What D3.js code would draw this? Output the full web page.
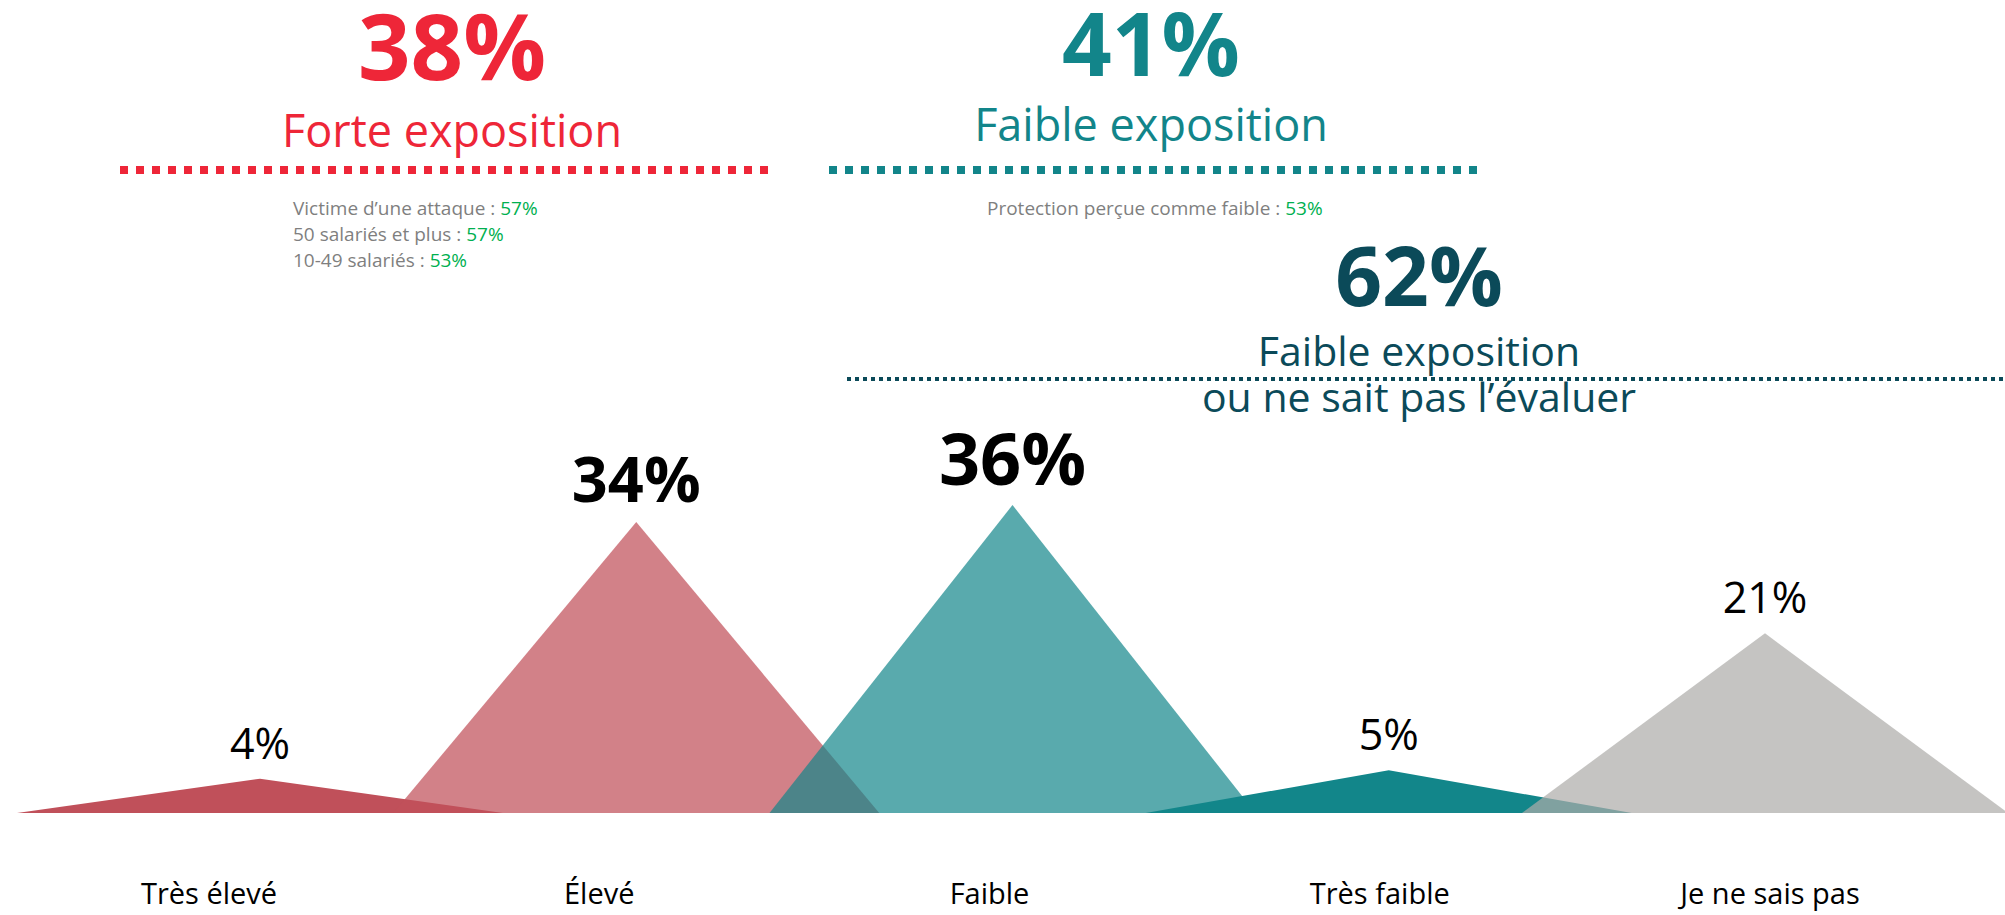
<!DOCTYPE html>
<html lang="fr">
<head>
<meta charset="utf-8">
<script src="https://cdn.jsdelivr.net/npm/d3@7"></script>
<style>
  body { margin: 0; background: #fff; }
  svg { display: block; font-family: 'Open Sans', 'Noto Sans', sans-serif; }
</style>
</head>
<body>
<div id="chart"></div>
<script>
  'use strict';

  // answer categories and their share
  var categories = ['Très élevé', 'Élevé', 'Faible', 'Très faible', 'Je ne sais pas'];
  var values = [4, 34, 36, 5, 21];
  var fills = ['rgb(192,80,90)', 'rgba(192,80,90,0.72)', 'rgba(18,134,138,0.7)', 'rgb(18,134,138)', 'rgba(173,172,169,0.71)'];

  // headline groups
  var groupValues = ['38%', '41%', '62%'];
  var groupTitles = [['Forte exposition'], ['Faible exposition'], ['Faible exposition', 'ou ne sait pas l’évaluer']];
  var groupColors = ['#ee2638', '#12858a', '#0b4a59'];

  // details under the headlines
  var detailLabels = [['Victime d’une attaque', '50 salariés et plus', '10-49 salariés'], ['Protection perçue comme faible']];
  var detailValues = [['57%', '57%', '53%'], ['53%']];

  var width = 2005, height = 915;
  var baseline = 813, halfBase = 243;

  var svg = d3.select('#chart').append('svg')
    .attr('width', width)
    .attr('height', height);

  var xPeak = d3.scalePoint().domain(categories).range([260, 1765]);
  var xLabel = d3.scalePoint().domain(categories).range([209, 1770]);
  var y = d3.scaleLinear().domain([0, 36]).range([baseline, 505]);

  var rows = categories.map(function (c, i) { return { cat: c, v: values[i], fill: fills[i] }; });
  var maxV = d3.max(values);

  // triangles
  svg.append('g').selectAll('path')
    .data(rows)
    .enter()
    .append('path')
    .attr('d', function (d) {
      var cx = xPeak(d.cat);
      return d3.line()([[cx - halfBase, y(0)], [cx, y(d.v)], [cx + halfBase, y(0)]]) + 'Z';
    })
    .style('fill', function (d) { return d.fill; });

  // value labels above peaks
  svg.append('g').selectAll('text')
    .data(rows)
    .enter()
    .append('text')
    .attr('x', function (d) { return xPeak(d.cat); })
    .attr('y', function (d) { return y(d.v) - 20; })
    .attr('text-anchor', 'middle')
    .style('font-size', function (d) { return d.v >= 30 ? (d.v === maxV ? '72px' : '63px') : '43px'; })
    .style('font-weight', function (d) { return d.v >= 30 ? 700 : 400; })
    .style('fill', '#000')
    .text(function (d) { return d.v + '%'; });

  // category labels
  svg.append('g').selectAll('text')
    .data(categories)
    .enter()
    .append('text')
    .attr('x', function (d) { return xLabel(d); })
    .attr('y', 904)
    .attr('text-anchor', 'middle')
    .style('font-size', '29px')
    .style('fill', '#000')
    .text(function (d) { return d; });

  // headline blocks
  var blocks = [
    { cx: 452, numY: 80, numSize: 92, titleY: 147, titleSize: 45, line: [120, 772], lineY: 170, lineW: 8, dash: '8 8' },
    { cx: 1151, numY: 76, numSize: 87, titleY: 141, titleSize: 45, line: [829, 1478], lineY: 170, lineW: 8, dash: '8 8' },
    { cx: 1419, numY: 306, numSize: 82, titleY: 366, titleSize: 41, line: [847, 2005], lineY: 379, lineW: 4, dash: '4 4' }
  ];

  blocks.forEach(function (b, i) {
    var g = svg.append('g').style('fill', groupColors[i]);
    g.append('text')
      .attr('x', b.cx)
      .attr('y', b.numY)
      .attr('text-anchor', 'middle')
      .style('font-size', b.numSize + 'px')
      .style('font-weight', 700)
      .text(groupValues[i]);
    g.selectAll('text.title')
      .data(groupTitles[i])
      .enter()
      .append('text')
      .attr('class', 'title')
      .attr('x', b.cx)
      .attr('y', function (d, j) { return b.titleY + j * 46; })
      .attr('text-anchor', 'middle')
      .style('font-size', b.titleSize + 'px')
      .text(function (d) { return d; });
    g.append('line')
      .attr('x1', b.line[0])
      .attr('x2', b.line[1])
      .attr('y1', b.lineY)
      .attr('y2', b.lineY)
      .style('stroke', groupColors[i])
      .style('stroke-width', b.lineW)
      .style('stroke-dasharray', b.dash);
  });

  // detail lines
  var detailPos = [{ x: 293, y: 215 }, { x: 987, y: 215 }];
  detailPos.forEach(function (p, i) {
    svg.append('g').selectAll('text')
      .data(detailLabels[i])
      .enter()
      .append('text')
      .attr('x', p.x)
      .attr('y', function (d, j) { return p.y + j * 26; })
      .style('font-size', '19px')
      .style('fill', '#7f7f7f')
      .text(function (d) { return d + ' : '; })
      .append('tspan')
      .style('fill', '#00b050')
      .text(function (d, j) { return detailValues[i][j]; });
  });
</script>
</body>
</html>
